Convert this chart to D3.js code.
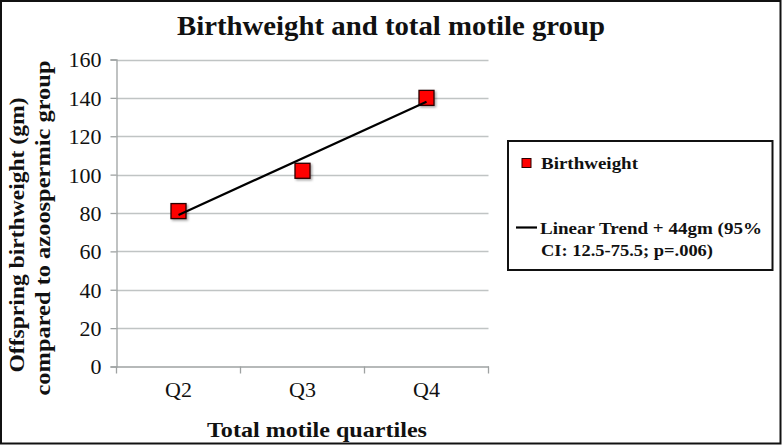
<!DOCTYPE html>
<html><head><meta charset="utf-8">
<script src="https://cdn.jsdelivr.net/npm/d3@7"></script>
<style>html,body{margin:0;padding:0;background:#fff;}svg{display:block;}</style>
</head><body>
<script>
const categories = ["Q2", "Q3", "Q4"];
const birthweight = [81, 102, 140];
const trendCategories = ["Q2", "Q4"];
const trendValues = [79, 138];
const yTicks = [0, 20, 40, 60, 80, 100, 120, 140, 160];
const titleText = "Birthweight and total motile group";
const xTitle = "Total motile quartiles";
const yTitleLines = ["Offspring birthweight (gm)", "compared to azoospermic group"];
const legendSeries = "Birthweight";
const legendTrend = ["Linear Trend + 44gm (95%", "CI: 12.5-75.5; p=.006)"];

const W = 782, H = 445;
const font = "'Liberation Serif', 'DejaVu Serif', serif";
const svg = d3.select("body").append("svg").attr("width", W).attr("height", H);

svg.append("rect").attr("x", 1).attr("y", 1).attr("width", W - 2.5).attr("height", H - 2.5)
  .attr("fill", "#fff").attr("stroke", "#111").attr("stroke-width", 2);

const x = d3.scaleBand().domain(categories).range([116.5, 488.5]);
const y = d3.scaleLinear().domain([0, 160]).range([366.5, 59.5]);

// gridlines
svg.append("g").selectAll("line").data(yTicks.filter(d => d > 0)).join("line")
  .attr("x1", 116.5).attr("x2", 488.5)
  .attr("y1", d => Math.round(y(d)) + 0.5).attr("y2", d => Math.round(y(d)) + 0.5)
  .attr("stroke", "#c0c4c4").attr("stroke-width", 1.3);

// y axis
const yAxis = svg.append("g").attr("transform", "translate(116.5,0)")
  .call(d3.axisLeft(y).tickValues(yTicks).tickSize(6).tickPadding(9).tickFormat(d3.format("d")));
yAxis.select(".domain").attr("stroke", "#9ea2a2").attr("stroke-width", 1.3);
yAxis.selectAll(".tick line").attr("stroke", "#9ea2a2").attr("stroke-width", 1.3);
yAxis.selectAll(".tick text").attr("font-family", font).attr("font-size", 22).attr("fill", "#111").attr("dy", "0.34em");

// x axis
const xAxis = svg.append("g").attr("transform", "translate(0,366.5)")
  .call(d3.axisBottom(x).tickSize(0).tickPadding(15));
xAxis.select(".domain").attr("stroke", "#9ea2a2").attr("stroke-width", 1.3);
xAxis.selectAll(".tick text").attr("font-family", font).attr("font-size", 22).attr("fill", "#111");
const bounds = [...categories.map(c => x(c)), x(categories[categories.length - 1]) + x.bandwidth()];
xAxis.selectAll(".sep").data(bounds).join("line").attr("class", "sep")
  .attr("x1", d => d).attr("x2", d => d).attr("y1", 0).attr("y2", 7)
  .attr("stroke", "#9ea2a2").attr("stroke-width", 1.3);

const cx = c => x(c) + x.bandwidth() / 2;

// markers with shadow
const defs = svg.append("defs");
const f = defs.append("filter").attr("id", "sh").attr("x", "-50%").attr("y", "-50%").attr("width", "200%").attr("height", "200%");
f.append("feDropShadow").attr("dx", 1.5).attr("dy", 1.5).attr("stdDeviation", 1.2).attr("flood-color", "#000").attr("flood-opacity", 0.35);

const ms = 15;
svg.append("g").selectAll("rect").data(birthweight).join("rect")
  .attr("x", (d, i) => cx(categories[i]) - ms / 2)
  .attr("y", d => y(d) - ms / 2)
  .attr("width", ms).attr("height", ms)
  .attr("fill", "#ff0000").attr("stroke", "#2a0000").attr("stroke-width", 1.3)
  .attr("filter", "url(#sh)");

// trend line
const line = d3.line().x((d, i) => cx(trendCategories[i])).y(d => y(d));
svg.append("path").datum(trendValues).attr("d", line)
  .attr("fill", "none").attr("stroke", "#000").attr("stroke-width", 2.2);

// title
svg.append("text").attr("x", 391).attr("y", 35).attr("text-anchor", "middle")
  .attr("font-family", font).attr("font-weight", "bold").attr("font-size", 27)
  .attr("textLength", 428).attr("lengthAdjust", "spacingAndGlyphs")
  .attr("fill", "#111").text(titleText);

// x title
svg.append("text").attr("x", 317).attr("y", 437).attr("text-anchor", "middle")
  .attr("font-family", font).attr("font-weight", "bold").attr("font-size", 21)
  .attr("textLength", 220).attr("lengthAdjust", "spacingAndGlyphs")
  .attr("fill", "#111").text(xTitle);

// y title
const yt = svg.append("g");
yt.append("text").attr("transform", "translate(24,235) rotate(-90)").attr("text-anchor", "middle")
  .attr("font-family", font).attr("font-weight", "bold").attr("font-size", 21)
  .attr("textLength", 275).attr("lengthAdjust", "spacingAndGlyphs")
  .attr("fill", "#111").text(yTitleLines[0]);
yt.append("text").attr("transform", "translate(50,228) rotate(-90)").attr("text-anchor", "middle")
  .attr("font-family", font).attr("font-weight", "bold").attr("font-size", 21)
  .attr("textLength", 335).attr("lengthAdjust", "spacingAndGlyphs")
  .attr("fill", "#111").text(yTitleLines[1]);

// legend
const lg = svg.append("g");
lg.append("rect").attr("x", 508).attr("y", 141).attr("width", 264.5).attr("height", 129)
  .attr("fill", "#fff").attr("stroke", "#111").attr("stroke-width", 2);
lg.append("rect").attr("x", 522).attr("y", 158.5).attr("width", 9).attr("height", 9)
  .attr("fill", "#ff0000").attr("stroke", "#2a0000").attr("stroke-width", 1);
lg.append("text").attr("x", 541).attr("y", 168.5)
  .attr("font-family", font).attr("font-weight", "bold").attr("font-size", 17)
  .attr("textLength", 97).attr("lengthAdjust", "spacingAndGlyphs")
  .attr("fill", "#111").text(legendSeries);
lg.append("line").attr("x1", 516).attr("x2", 537).attr("y1", 227.5).attr("y2", 227.5)
  .attr("stroke", "#000").attr("stroke-width", 2.2);
lg.append("text").attr("x", 540).attr("y", 234)
  .attr("font-family", font).attr("font-weight", "bold").attr("font-size", 17)
  .attr("textLength", 222).attr("lengthAdjust", "spacingAndGlyphs")
  .attr("fill", "#111").text(legendTrend[0]);
lg.append("text").attr("x", 541).attr("y", 256)
  .attr("font-family", font).attr("font-weight", "bold").attr("font-size", 17)
  .attr("textLength", 172).attr("lengthAdjust", "spacingAndGlyphs")
  .attr("fill", "#111").text(legendTrend[1]);
</script>
</body></html>
